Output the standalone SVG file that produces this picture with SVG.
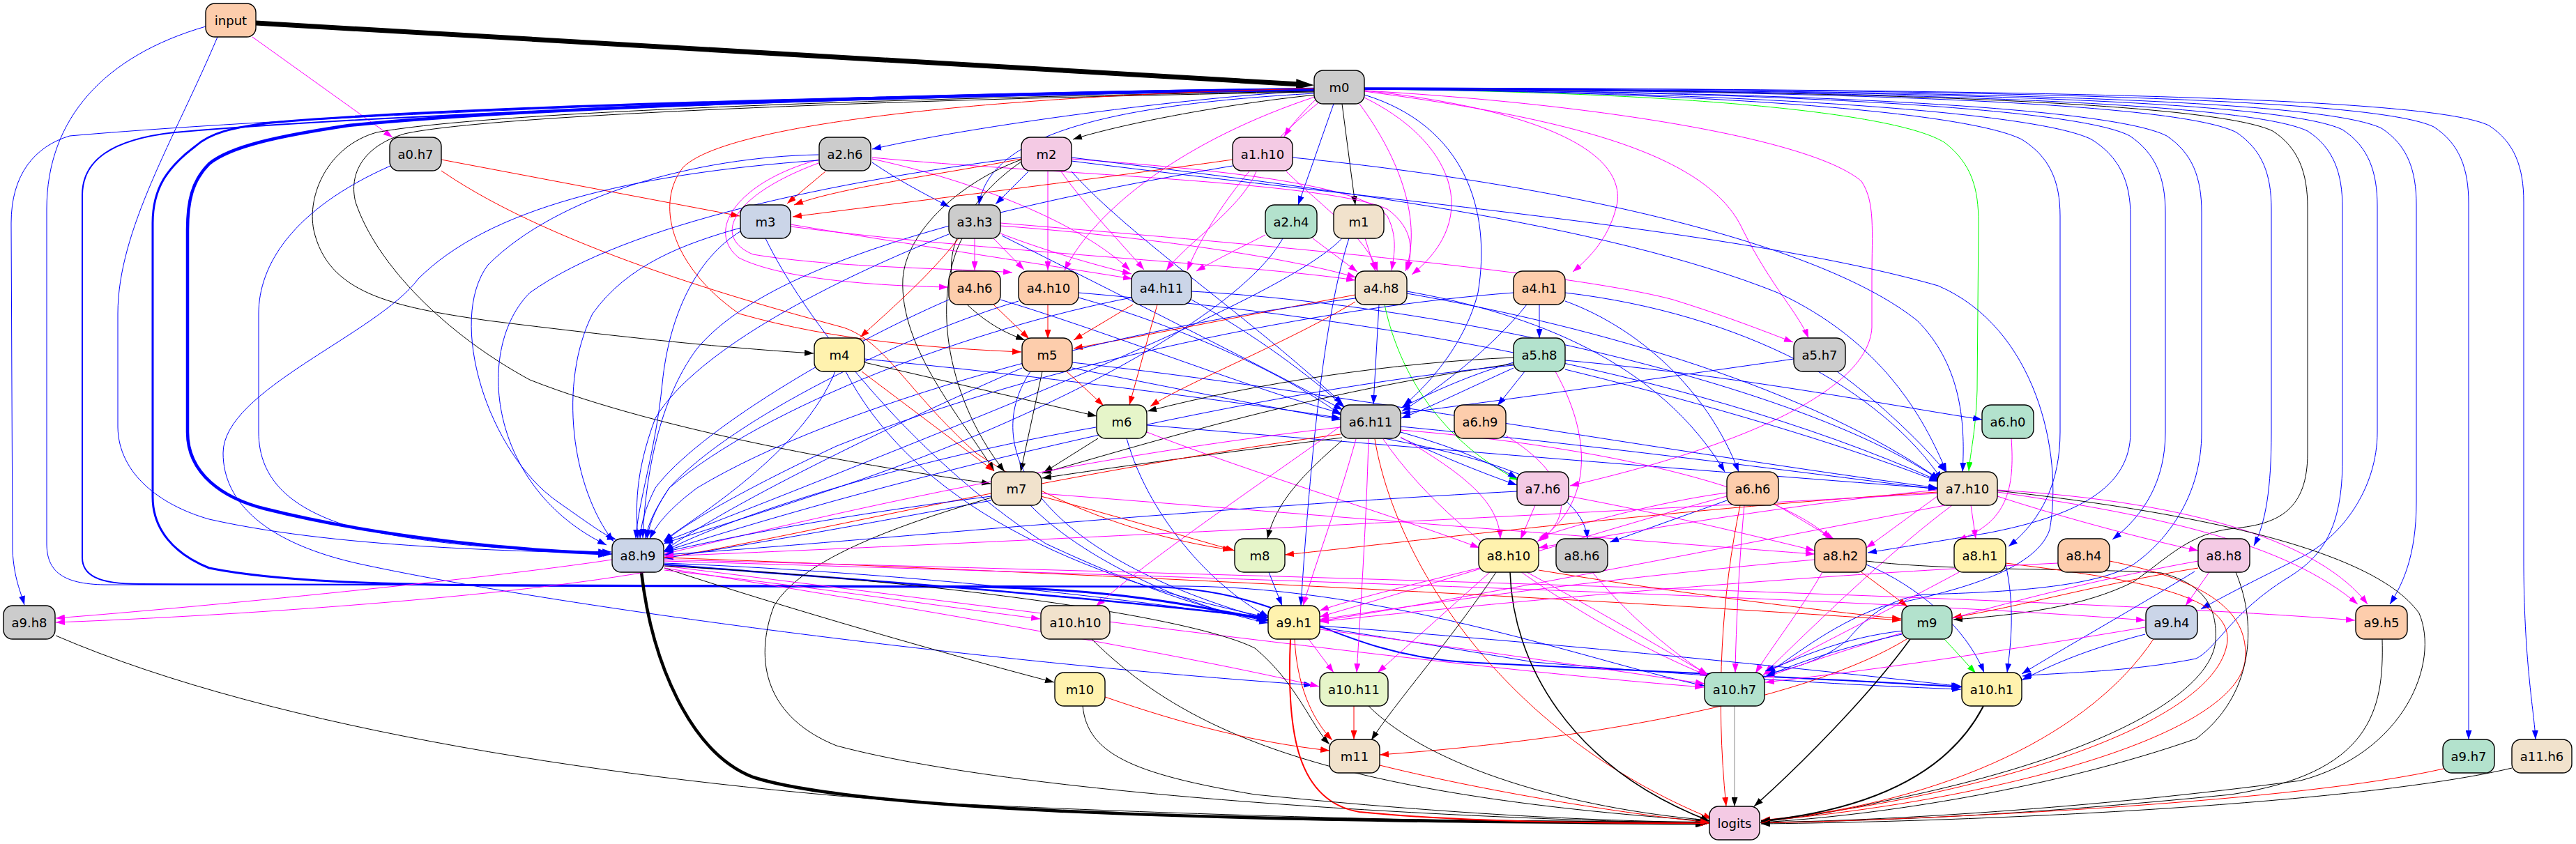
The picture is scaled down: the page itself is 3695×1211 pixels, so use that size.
<svg xmlns="http://www.w3.org/2000/svg" width="3695" height="1211" viewBox="0 0 3695 1211">
<style>
.e{fill:none;stroke-width:1}
.k{stroke:#000;marker-end:url(#ak)}
.b{stroke:#0000ff;marker-end:url(#ab)}
.r{stroke:#ff0000;marker-end:url(#ar)}
.m{stroke:#ff00ff;marker-end:url(#am)}
.g{stroke:#00ff00;marker-end:url(#ag)}
.n rect{stroke:#000;stroke-width:1.4}
.n text{font-family:"DejaVu Sans",sans-serif;font-size:18px;text-anchor:middle;fill:#000}
.c0{fill:#cccccc}.c1{fill:#f4cae4}.c2{fill:#cbd5e8}.c3{fill:#b3e2cd}.c4{fill:#fdcdac}.c5{fill:#fff2ae}.c6{fill:#f1e2cc}.c7{fill:#e6f5c9}
</style>
<defs>
<marker id="ak" viewBox="0 0 13 9" refX="13" refY="4.5" markerWidth="13" markerHeight="9" markerUnits="userSpaceOnUse" orient="auto"><path d="M0,0L13,4.5L0,9z" fill="#000"/></marker>
<marker id="ab" viewBox="0 0 13 9" refX="13" refY="4.5" markerWidth="13" markerHeight="9" markerUnits="userSpaceOnUse" orient="auto"><path d="M0,0L13,4.5L0,9z" fill="#0000ff"/></marker>
<marker id="ar" viewBox="0 0 13 9" refX="13" refY="4.5" markerWidth="13" markerHeight="9" markerUnits="userSpaceOnUse" orient="auto"><path d="M0,0L13,4.5L0,9z" fill="#ff0000"/></marker>
<marker id="am" viewBox="0 0 13 9" refX="13" refY="4.5" markerWidth="13" markerHeight="9" markerUnits="userSpaceOnUse" orient="auto"><path d="M0,0L13,4.5L0,9z" fill="#ff00ff"/></marker>
<marker id="ag" viewBox="0 0 13 9" refX="13" refY="4.5" markerWidth="13" markerHeight="9" markerUnits="userSpaceOnUse" orient="auto"><path d="M0,0L13,4.5L0,9z" fill="#00ff00"/></marker>
<marker id="akL" viewBox="0 0 26 15" refX="6" refY="7.5" markerWidth="26" markerHeight="15" markerUnits="userSpaceOnUse" orient="auto"><path d="M0,0L26,7.5L0,15z" fill="#000"/></marker>
<marker id="akM" viewBox="0 0 20 13" refX="4" refY="6.5" markerWidth="20" markerHeight="13" markerUnits="userSpaceOnUse" orient="auto"><path d="M0,0L20,6.5L0,13z" fill="#000"/></marker>
<marker id="abL" viewBox="0 0 20 13" refX="4" refY="6.5" markerWidth="20" markerHeight="13" markerUnits="userSpaceOnUse" orient="auto"><path d="M0,0L20,6.5L0,13z" fill="#0000ff"/></marker>
<marker id="abM" viewBox="0 0 16 11" refX="3" refY="5.5" markerWidth="16" markerHeight="11" markerUnits="userSpaceOnUse" orient="auto"><path d="M0,0L16,5.5L0,11z" fill="#0000ff"/></marker>
</defs>
<rect width="3695" height="1211" fill="#fff"/>
<g id="edges">
<path class="e k" style="stroke-width:7;marker-end:url(#akL)" d="M367,33 L1865,121"/>
<path class="e m" d="M362,53 L563,197"/>
<path class="e b" d="M312,53 C250,200 169,330 169,450 L169,613 C170,680 230,725 300,745 C500,790 780,790 878,795"/>
<path class="e b" d="M295,38 C150,80 67,170 67,300 L67,780 C67,820 90,838 150,839 L1700,841 C2000,843 2300,955 2445,984"/>
<path class="e b" style="stroke-width:4.5;marker-end:url(#abL)" d="M1885,128 C1400,135 800,150 500,180 C400,195 330,210 300,235 C275,260 269,290 269,330 L269,620 C269,680 320,715 380,730 C560,775 760,790 862,794"/>
<path class="e b" style="stroke-width:3;marker-end:url(#abM)" d="M1885,129 C1400,136 700,150 400,175 C330,182 300,192 280,210 C240,240 219,270 219,320 L219,713 C219,760 250,795 300,815 C400,835 550,838 700,840 L1400,842 C1600,845 1720,870 1806,887"/>
<path class="e b" style="stroke-width:2;marker-end:url(#abM)" d="M1885,130 C1400,134 600,160 250,190 C160,200 118,230 118,280 L118,800 C118,825 140,838 200,838 L1650,842 C1850,845 1900,935 2100,950 C2400,965 2650,975 2802,985"/>
<path class="e b" d="M1885,130 C1700,140 1400,180 1251,214"/>
<path class="e k" d="M1888,136 C1750,150 1600,180 1539,200"/>
<path class="e b" d="M1885,134 C1600,150 1420,190 1404,294"/>
<path class="e b" d="M1885,127 C1400,130 500,160 100,195 C50,210 16,250 16,320 L18,790 C20,830 30,850 35,868"/>
<path class="e k" d="M1885,131 C1300,140 700,160 540,190 C470,210 440,280 450,330 C470,420 560,440 700,460 C900,485 1050,500 1167,507"/>
<path class="e k" d="M1885,132 C1300,142 700,165 580,192 C520,210 500,250 510,290 C540,380 640,480 760,545 C950,620 1250,670 1421,694"/>
<path class="e r" d="M1885,127 C1500,135 1050,170 980,240 C940,290 960,380 1060,450 C1200,490 1350,500 1465,505"/>
<path class="e m" d="M1890,140 C1870,160 1855,175 1842,196"/>
<path class="e b" d="M1913,149 L1862,294"/>
<path class="e k" d="M1925,149 L1944,294"/>
<path class="e m" d="M1889,138 C1700,200 1570,300 1527,388"/>
<path class="e m" d="M1893,146 C1800,220 1730,320 1703,388"/>
<path class="e m" d="M1950,149 C2010,230 2040,320 2016,389"/>
<path class="e m" d="M1957,140 C2080,200 2130,310 2025,394"/>
<path class="e b" d="M1957,136 C2100,180 2140,300 2120,420 C2100,500 2040,560 2013,582"/>
<path class="e m" d="M1957,130 C2150,150 2330,200 2320,290 C2310,340 2280,370 2256,390"/>
<path class="e m" d="M1957,131 C2250,170 2450,220 2500,330 C2540,410 2580,450 2594,485"/>
<path class="e m" d="M1957,130 C2300,150 2600,200 2670,260 C2690,290 2685,330 2685,400 L2685,470 C2680,560 2500,640 2252,697"/>
<path class="e g" d="M1957,128 C2400,132 2720,160 2790,205 C2828,235 2838,270 2838,320 L2836,560 C2834,620 2826,650 2824,676"/>
<path class="e b" d="M1957,128 C2450,132 2820,160 2900,200 C2940,225 2955,260 2955,310 L2955,620 C2955,690 2930,745 2881,784"/>
<path class="e b" d="M1957,128 C2500,132 2920,160 3000,200 C3040,225 3056,260 3056,310 L3056,620 C3056,700 2980,740 2850,765 C2760,780 2710,788 2679,793"/>
<path class="e b" d="M1957,128 C2550,131 2980,155 3055,195 C3092,220 3106,255 3106,305 L3106,620 C3106,690 3075,740 3030,774"/>
<path class="e b" d="M1957,128 C2600,131 3030,155 3108,195 C3145,220 3158,255 3158,305 L3158,620 C3158,710 3110,775 3060,810 C3000,845 2860,850 2760,853 C2700,860 2670,895 2650,918 C2615,948 2570,960 2533,967"/>
<path class="e b" d="M1957,128 C2700,130 3130,150 3208,190 C3245,215 3258,250 3258,300 L3258,620 C3258,700 3250,750 3233,783"/>
<path class="e k" d="M1957,127 C2750,130 3180,150 3260,188 C3297,212 3310,248 3310,298 L3310,650 C3310,730 3270,752 3205,758 C3140,765 3110,800 3060,835 C2990,870 2900,882 2802,889"/>
<path class="e b" d="M1957,127 C2800,130 3230,150 3310,188 C3347,212 3360,248 3360,298 L3360,660 C3360,760 3330,800 3280,830 C3200,880 3180,930 3150,945 C3050,965 2950,965 2901,970"/>
<path class="e b" d="M1957,127 C2850,129 3280,148 3360,186 C3397,210 3410,246 3410,296 L3410,620 C3410,700 3360,770 3300,800 C3240,830 3190,855 3157,874"/>
<path class="e b" d="M1957,127 C2900,129 3336,146 3416,184 C3453,208 3466,244 3466,294 L3466,720 C3466,800 3445,840 3428,867"/>
<path class="e b" d="M1957,126 C2950,128 3411,144 3491,182 C3528,206 3541,242 3541,292 L3541,1061"/>
<path class="e b" d="M1957,126 C3000,128 3490,142 3570,180 C3607,204 3620,240 3620,290 L3620,800 C3620,950 3635,1020 3637,1061"/>
<path class="e r" d="M633,229 L1061,310"/>
<path class="e r" d="M633,245 C800,360 1100,440 1210,470 C1270,490 1300,560 1400,650 C1550,750 1700,780 1767,789"/>
<path class="e b" d="M560,238 C420,300 371,380 371,450 L371,620 C371,690 420,730 500,755 C650,790 800,790 877,792"/>
<path class="e r" d="M1184,246 L1129,292"/>
<path class="e b" d="M1251,233 C1290,260 1330,280 1362,297"/>
<path class="e m" d="M1174,229 C1060,260 1010,330 1060,370 C1120,400 1250,410 1360,412"/>
<path class="e m" d="M1174,234 C1050,280 1020,340 1080,365 C1200,385 1380,385 1452,391"/>
<path class="e m" d="M1251,228 C1400,260 1550,320 1621,388"/>
<path class="e m" d="M1251,226 C1500,250 1900,260 1990,300 C2030,330 2025,360 2019,388"/>
<path class="e b" d="M1174,222 C1000,225 800,280 700,380 C640,460 700,650 800,720 C850,755 870,770 884,774"/>
<path class="e b" d="M1174,230 C900,250 700,300 600,400 C540,480 320,560 320,650 C320,720 380,780 520,810 C800,870 1400,950 1883,983"/>
<path class="e r" d="M1465,228 C1350,250 1200,270 1139,294"/>
<path class="e b" d="M1475,246 L1428,293"/>
<path class="e m" d="M1503,246 L1503,388"/>
<path class="e m" d="M1522,246 C1560,300 1610,350 1641,387"/>
<path class="e m" d="M1537,228 C1700,240 1950,260 1990,310 C2005,340 2000,365 1996,388"/>
<path class="e b" d="M1537,246 C1620,340 1800,460 1926,580"/>
<path class="e b" d="M1537,226 C1900,270 2300,320 2550,420 C2700,490 2760,600 2792,677"/>
<path class="e b" d="M1537,231 C2000,290 2500,330 2780,410 C2920,470 2960,650 2940,760 C2920,820 2800,850 2700,870 C2620,900 2570,945 2534,966"/>
<path class="e b" d="M1465,226 C1200,260 900,320 760,420 C680,500 700,700 870,782"/>
<path class="e k" d="M1465,229 C1380,260 1300,330 1295,400 C1290,500 1380,600 1426,676"/>
<path class="e k" d="M1465,232 C1380,290 1340,380 1380,430 C1420,470 1450,480 1470,488"/>
<path class="e r" d="M1768,229 C1550,260 1300,290 1137,311"/>
<path class="e m" d="M1802,246 C1780,300 1700,350 1673,388"/>
<path class="e m" d="M1845,246 C1900,300 1960,340 1976,389"/>
<path class="e b" d="M1768,238 C1400,300 1100,380 1000,500 C940,580 925,700 922,772"/>
<path class="e b" d="M1854,226 C2200,260 2600,340 2750,460 C2810,520 2820,600 2815,677"/>
<path class="e m" d="M1134,322 C1300,350 1500,380 1624,400"/>
<path class="e m" d="M1134,325 C1400,360 1800,380 1944,402"/>
<path class="e b" d="M1062,327 C980,350 900,380 850,450 C800,550 820,700 880,777"/>
<path class="e b" d="M1062,332 C1000,370 960,450 950,550 C940,650 915,720 912,773"/>
<path class="e b" d="M1098,342 C1150,450 1300,650 1500,780 C1650,850 1750,880 1819,891"/>
<path class="e m" d="M1398,342 L1398,388"/>
<path class="e m" d="M1425,342 L1469,387"/>
<path class="e m" d="M1435,335 C1500,360 1570,380 1623,393"/>
<path class="e m" d="M1435,324 C1650,340 1850,370 1945,398"/>
<path class="e m" d="M1435,320 C1800,350 2250,390 2400,430 C2480,455 2530,475 2572,491"/>
<path class="e r" d="M1375,342 C1330,400 1270,450 1234,484"/>
<path class="e b" d="M1361,336 C1200,400 1000,500 940,600 C910,680 912,730 915,773"/>
<path class="e b" d="M1437,338 C1600,420 1800,520 1926,588"/>
<path class="e k" d="M1380,342 C1340,420 1350,560 1441,677"/>
<path class="e m" d="M1815,337 C1770,360 1740,375 1716,389"/>
<path class="e m" d="M1883,342 L1947,390"/>
<path class="e b" d="M1840,342 C1780,450 1500,600 1200,700 C1050,750 980,770 952,780"/>
<path class="e m" d="M1958,342 L1973,389"/>
<path class="e b" d="M1925,342 C1850,420 1500,560 1200,680 C1050,740 970,770 952,778"/>
<path class="e b" d="M1935,342 C1900,450 1880,650 1866,869"/>
<path class="e r" d="M1425,437 L1476,486"/>
<path class="e b" d="M1435,430 C1600,480 1800,560 1924,593"/>
<path class="e b" d="M1361,430 C1200,500 1000,620 940,700 C925,730 920,750 918,773"/>
<path class="e r" d="M1503,437 L1503,486"/>
<path class="e b" d="M1547,427 C1700,470 1850,540 1924,596"/>
<path class="e b" d="M1461,432 C1300,480 1050,600 960,700 C940,730 930,750 926,773"/>
<path class="e b" d="M1547,420 C1900,450 2400,520 2781,690"/>
<path class="e r" d="M1625,437 L1540,488"/>
<path class="e r" d="M1660,437 L1620,581"/>
<path class="e b" d="M1709,430 C1800,480 1880,540 1929,585"/>
<path class="e b" d="M1709,418 C2100,440 2600,560 2782,689"/>
<path class="e b" d="M1623,427 C1400,470 1100,580 960,700 C940,730 932,750 928,773"/>
<path class="e r" d="M1944,423 C1800,450 1650,480 1540,500"/>
<path class="e r" d="M1944,433 C1850,490 1700,550 1650,583"/>
<path class="e b" d="M1978,437 L1970,580"/>
<path class="e g" d="M1986,437 C2010,550 2080,640 2178,689"/>
<path class="e b" d="M2018,418 C2200,450 2380,520 2474,677"/>
<path class="e b" d="M2018,421 C2300,470 2600,560 2782,688"/>
<path class="e b" d="M1944,428 C1600,470 1200,580 1000,700 C960,730 942,752 932,773"/>
<path class="e b" d="M2208,437 L2208,485"/>
<path class="e b" d="M2190,437 C2140,500 2060,560 2011,590"/>
<path class="e b" d="M2245,432 C2350,470 2450,560 2494,677"/>
<path class="e b" d="M2171,420 C1900,440 1500,520 1200,640 C1050,710 970,760 953,778"/>
<path class="e b" d="M2245,420 C2500,450 2700,560 2786,689"/>
<path class="e k" d="M1240,520 L1573,597"/>
<path class="e r" d="M1236,533 L1426,676"/>
<path class="e b" d="M1198,533 C1150,650 1000,740 952,776"/>
<path class="e b" d="M1213,533 C1300,700 1500,820 1819,886"/>
<path class="e b" d="M1240,515 C1500,540 1800,580 1923,600"/>
<path class="e r" d="M1530,533 L1583,582"/>
<path class="e k" d="M1495,533 L1464,677"/>
<path class="e b" d="M1538,528 C1700,560 1850,590 1923,602"/>
<path class="e b" d="M1538,520 C1900,560 2400,650 2779,700"/>
<path class="e b" d="M1466,528 C1300,600 1050,720 953,790"/>
<path class="e b" d="M1478,533 C1400,650 1500,800 1819,889"/>
<path class="e b" d="M2171,520 C2100,540 2040,570 2010,585"/>
<path class="e b" d="M2171,528 C2100,560 2050,585 2010,600"/>
<path class="e b" d="M2187,533 L2148,582"/>
<path class="e b" d="M2245,517 C2500,540 2700,580 2843,602"/>
<path class="e k" d="M2171,513 C2000,520 1800,550 1646,590"/>
<path class="e k" d="M2171,522 C1900,560 1700,620 1495,679"/>
<path class="e b" d="M2171,524 C1800,560 1300,680 953,791"/>
<path class="e b" d="M2245,530 C2450,580 2650,640 2780,691"/>
<path class="e m" d="M2231,533 C2280,620 2290,720 2205,777"/>
<path class="e b" d="M2573,515 C2400,540 2150,575 2010,593"/>
<path class="e b" d="M2635,533 C2700,580 2760,640 2791,677"/>
<path class="e k" d="M1575,629 L1497,678"/>
<path class="e b" d="M1572,613 C1300,660 1050,740 953,791"/>
<path class="e b" d="M1616,629 C1650,750 1750,850 1820,885"/>
<path class="e b" d="M1645,610 C2000,640 2500,680 2779,701"/>
<path class="e m" d="M1645,620 C1800,680 2000,740 2122,786"/>
<path class="e k" d="M1925,628 C1750,650 1600,670 1495,686"/>
<path class="e b" d="M2009,620 C2080,640 2130,660 2176,686"/>
<path class="e b" d="M2009,628 C2080,660 2130,680 2176,696"/>
<path class="e b" d="M2009,612 C2300,640 2600,680 2779,702"/>
<path class="e b" d="M1985,629 C2150,660 2270,700 2277,773"/>
<path class="e m" d="M1923,613 C1500,660 1100,760 953,795"/>
<path class="e r" d="M1923,623 C1500,680 1100,780 953,800"/>
<path class="e k" d="M1925,632 C1870,680 1830,720 1818,773"/>
<path class="e m" d="M2009,627 C2100,680 2150,720 2152,773"/>
<path class="e m" d="M2009,617 C2300,640 2550,700 2626,773"/>
<path class="e m" d="M1945,630 C1920,720 1890,800 1869,869"/>
<path class="e m" d="M1963,630 C1960,750 1950,900 1946,965"/>
<path class="e m" d="M1984,630 C2100,800 2350,930 2451,970"/>
<path class="e r" d="M1972,630 C2000,800 2150,1050 2456,1175"/>
<path class="e m" d="M1925,610 C1800,700 1650,800 1572,870"/>
<path class="e m" d="M2160,625 C2250,680 2260,740 2208,776"/>
<path class="e m" d="M2885,629 C2890,700 2880,750 2808,775"/>
<path class="e b" d="M1422,712 C1200,740 1050,770 953,792"/>
<path class="e b" d="M1422,718 C1200,760 1050,785 953,801"/>
<path class="e r" d="M1493,712 C1600,740 1700,770 1771,790"/>
<path class="e b" d="M1478,725 C1550,800 1700,870 1819,894"/>
<path class="e m" d="M1493,708 C1900,740 2400,780 2603,795"/>
<path class="e k" d="M1422,714 C1300,750 1150,800 1110,870 C1080,950 1100,1030 1200,1070 C1500,1150 2200,1178 2452,1181"/>
<path class="e m" d="M2202,725 L2181,774"/>
<path class="e b" d="M2176,705 C1700,730 1200,780 953,796"/>
<path class="e m" d="M2250,712 C2400,740 2520,770 2603,790"/>
<path class="e m" d="M2477,707 C2380,720 2270,750 2208,771"/>
<path class="e b" d="M2477,718 L2309,778"/>
<path class="e m" d="M2549,725 L2631,774"/>
<path class="e m" d="M2502,725 C2495,800 2490,900 2489,965"/>
<path class="e r" d="M2496,725 C2470,850 2460,1000 2476,1157"/>
<path class="e m" d="M2477,712 C2300,760 2050,840 1893,885"/>
<path class="e m" d="M2827,725 L2834,773"/>
<path class="e m" d="M2865,712 C2950,740 3080,775 3153,790"/>
<path class="e m" d="M2865,706 C3100,740 3280,780 3382,867"/>
<path class="e m" d="M2865,703 C3150,720 3330,780 3396,867"/>
<path class="e k" d="M2865,704 C3100,730 3400,780 3470,880 C3500,950 3450,1080 3300,1120 C3000,1160 2700,1178 2525,1180"/>
<path class="e m" d="M2779,703 C2600,720 2350,760 2207,786"/>
<path class="e m" d="M2779,712 C2740,740 2700,770 2677,786"/>
<path class="e r" d="M2779,706 C2400,730 2000,780 1843,796"/>
<path class="e m" d="M2779,708 C2200,740 1400,780 953,798"/>
<path class="e m" d="M2800,725 C2700,800 2600,900 2531,966"/>
<path class="e m" d="M2790,725 C2500,780 2100,860 1893,891"/>
<path class="e k" style="stroke-width:4.5;marker-end:url(#akM)" d="M920,821 C935,950 990,1080 1080,1115 C1250,1170 1900,1179 2436,1181"/>
<path class="e b" style="stroke-width:2.5;marker-end:url(#abM)" d="M953,810 C1200,830 1500,850 1806,885"/>
<path class="e k" d="M953,815 C1150,880 1400,950 1512,979"/>
<path class="e m" d="M878,803 C700,830 300,870 80,887"/>
<path class="e m" d="M925,821 C700,860 300,885 80,893"/>
<path class="e m" d="M953,818 C1150,840 1350,870 1492,888"/>
<path class="e r" d="M953,800 C1500,820 2300,860 2727,890"/>
<path class="e m" d="M953,805 C1800,830 2700,860 3077,890"/>
<path class="e m" d="M953,803 C2000,830 3000,860 3378,890"/>
<path class="e m" d="M953,815 C1300,870 1700,940 1892,985"/>
<path class="e m" d="M953,812 C1500,880 2100,960 2444,986"/>
<path class="e b" d="M953,808 C1500,830 1900,900 2200,950 C2500,975 2700,985 2813,989"/>
<path class="e k" d="M953,812 C1300,830 1700,880 1800,930 C1860,980 1880,1040 1907,1068"/>
<path class="e b" d="M1820,821 L1839,869"/>
<path class="e m" d="M2122,815 C2020,840 1940,860 1893,876"/>
<path class="e m" d="M2137,821 L1976,965"/>
<path class="e k" d="M2146,821 C2080,920 2000,1010 1967,1062"/>
<path class="e k" style="stroke-width:1.6" d="M2166,821 C2170,950 2250,1100 2452,1178"/>
<path class="e m" d="M2190,821 C2300,880 2400,940 2450,968"/>
<path class="e r" d="M2207,818 C2400,850 2600,875 2727,888"/>
<path class="e m" d="M2284,821 C2350,900 2420,950 2449,968"/>
<path class="e r" d="M2670,821 L2736,870"/>
<path class="e m" d="M2603,803 C2300,830 2050,865 1893,889"/>
<path class="e m" d="M2614,821 C2580,880 2540,930 2518,966"/>
<path class="e b" d="M2677,810 C2750,840 2820,900 2846,965"/>
<path class="e k" d="M2677,805 C2800,820 3000,815 3100,822 C3170,840 3180,880 3178,920 C3170,1000 3000,1090 2700,1150 C2620,1168 2560,1176 2526,1179"/>
<path class="e b" d="M2877,810 C2890,870 2885,920 2879,965"/>
<path class="e m" d="M2810,821 C2700,880 2600,930 2529,968"/>
<path class="e r" d="M2877,808 C3050,830 3200,850 3195,920 C3180,1050 2800,1150 2526,1177"/>
<path class="e m" d="M2952,808 C2500,830 2100,870 1893,892"/>
<path class="e r" d="M3026,805 C3150,830 3230,870 3220,950 C3200,1060 2850,1150 2526,1178"/>
<path class="e m" d="M3169,821 L3135,869"/>
<path class="e r" d="M3153,815 C3000,840 2900,870 2801,886"/>
<path class="e b" d="M3148,820 C3050,880 2960,930 2900,967"/>
<path class="e k" d="M3207,821 C3240,900 3230,1000 3150,1060 C2950,1130 2700,1170 2526,1180"/>
<path class="e m" d="M3153,805 C2900,850 2650,930 2532,972"/>
<path class="e k" d="M80,912 C400,1050 900,1120 1300,1150 C1800,1175 2200,1180 2452,1181"/>
<path class="e k" d="M1566,917 C1700,1050 1900,1140 2452,1178"/>
<path class="e m" d="M1877,917 L1913,965"/>
<path class="e r" d="M1857,917 C1860,980 1880,1030 1911,1062"/>
<path class="e r" style="stroke-width:2" d="M1851,917 C1845,1050 1860,1150 1950,1165 C2100,1180 2300,1181 2452,1181"/>
<path class="e m" d="M1893,903 C2100,930 2300,960 2445,981"/>
<path class="e b" d="M1893,898 C2200,920 2600,960 2814,985"/>
<path class="e b" d="M2728,910 C2640,930 2580,950 2532,971"/>
<path class="e b" d="M2730,905 C2640,915 2580,945 2532,963"/>
<path class="e g" d="M2789,917 L2834,966"/>
<path class="e r" d="M2735,917 C2600,1000 2300,1060 1979,1083"/>
<path class="e k" style="stroke-width:1.5" d="M2740,917 C2680,1000 2580,1100 2516,1157"/>
<path class="e b" d="M3077,910 C3000,930 2950,950 2900,976"/>
<path class="e m" d="M3077,900 C2900,930 2700,960 2532,979"/>
<path class="e r" d="M3089,917 C3000,1050 2800,1150 2526,1178"/>
<path class="e k" d="M3417,917 C3420,1020 3400,1110 3200,1140 C2900,1170 2700,1178 2526,1180"/>
<path class="e r" d="M1585,1000 C1700,1040 1800,1065 1907,1077"/>
<path class="e k" d="M1553,1013 C1560,1080 1620,1110 1800,1140 C2100,1170 2300,1178 2452,1180"/>
<path class="e r" d="M1942,1013 L1942,1061"/>
<path class="e k" d="M1963,1013 C2050,1100 2250,1160 2452,1177"/>
<path class="e k" style="stroke:#888" d="M2488,1013 L2488,1157"/>
<path class="e k" style="stroke-width:2" d="M2845,1013 C2800,1100 2700,1160 2526,1178"/>
<path class="e r" d="M1979,1098 C2150,1140 2350,1170 2452,1180"/>
<path class="e r" d="M3505,1103 C3300,1150 2800,1175 2526,1181"/>
<path class="e k" d="M3603,1102 C3400,1150 2900,1178 2526,1182"/>
</g>
<g id="n-input" class="n"><rect class="c4" x="295" y="5" width="72" height="48" rx="13"/><text x="331" y="35.5">input</text></g>
<g id="n-m0" class="n"><rect class="c0" x="1885" y="101" width="72" height="48" rx="13"/><text x="1921" y="131.5">m0</text></g>
<g id="n-a0.h7" class="n"><rect class="c0" x="559" y="197" width="74" height="48" rx="13"/><text x="596" y="227.5">a0.h7</text></g>
<g id="n-a2.h6" class="n"><rect class="c0" x="1175" y="197" width="74" height="48" rx="13"/><text x="1212" y="227.5">a2.h6</text></g>
<g id="n-m2" class="n"><rect class="c1" x="1465" y="197" width="72" height="48" rx="13"/><text x="1501" y="227.5">m2</text></g>
<g id="n-a1.h10" class="n"><rect class="c1" x="1768" y="197" width="86" height="48" rx="13"/><text x="1811" y="227.5">a1.h10</text></g>
<g id="n-m3" class="n"><rect class="c2" x="1062" y="294" width="72" height="48" rx="13"/><text x="1098" y="324.5">m3</text></g>
<g id="n-a3.h3" class="n"><rect class="c0" x="1361" y="294" width="74" height="48" rx="13"/><text x="1398" y="324.5">a3.h3</text></g>
<g id="n-a2.h4" class="n"><rect class="c3" x="1815" y="294" width="74" height="48" rx="13"/><text x="1852" y="324.5">a2.h4</text></g>
<g id="n-m1" class="n"><rect class="c6" x="1913" y="294" width="72" height="48" rx="13"/><text x="1949" y="324.5">m1</text></g>
<g id="n-a4.h6" class="n"><rect class="c4" x="1361" y="389" width="74" height="48" rx="13"/><text x="1398" y="419.5">a4.h6</text></g>
<g id="n-a4.h10" class="n"><rect class="c4" x="1461" y="389" width="86" height="48" rx="13"/><text x="1504" y="419.5">a4.h10</text></g>
<g id="n-a4.h11" class="n"><rect class="c2" x="1623" y="389" width="86" height="48" rx="13"/><text x="1666" y="419.5">a4.h11</text></g>
<g id="n-a4.h8" class="n"><rect class="c6" x="1944" y="389" width="74" height="48" rx="13"/><text x="1981" y="419.5">a4.h8</text></g>
<g id="n-a4.h1" class="n"><rect class="c4" x="2171" y="389" width="74" height="48" rx="13"/><text x="2208" y="419.5">a4.h1</text></g>
<g id="n-m4" class="n"><rect class="c5" x="1168" y="485" width="72" height="48" rx="13"/><text x="1204" y="515.5">m4</text></g>
<g id="n-m5" class="n"><rect class="c4" x="1466" y="485" width="72" height="48" rx="13"/><text x="1502" y="515.5">m5</text></g>
<g id="n-a5.h8" class="n"><rect class="c3" x="2171" y="485" width="74" height="48" rx="13"/><text x="2208" y="515.5">a5.h8</text></g>
<g id="n-a5.h7" class="n"><rect class="c0" x="2573" y="485" width="74" height="48" rx="13"/><text x="2610" y="515.5">a5.h7</text></g>
<g id="n-m6" class="n"><rect class="c7" x="1573" y="581" width="72" height="48" rx="13"/><text x="1609" y="611.5">m6</text></g>
<g id="n-a6.h11" class="n"><rect class="c0" x="1923" y="581" width="86" height="48" rx="13"/><text x="1966" y="611.5">a6.h11</text></g>
<g id="n-a6.h9" class="n"><rect class="c4" x="2086" y="581" width="74" height="48" rx="13"/><text x="2123" y="611.5">a6.h9</text></g>
<g id="n-a6.h0" class="n"><rect class="c3" x="2843" y="581" width="74" height="48" rx="13"/><text x="2880" y="611.5">a6.h0</text></g>
<g id="n-m7" class="n"><rect class="c6" x="1422" y="677" width="72" height="48" rx="13"/><text x="1458" y="707.5">m7</text></g>
<g id="n-a7.h6" class="n"><rect class="c1" x="2176" y="677" width="74" height="48" rx="13"/><text x="2213" y="707.5">a7.h6</text></g>
<g id="n-a6.h6" class="n"><rect class="c4" x="2477" y="677" width="74" height="48" rx="13"/><text x="2514" y="707.5">a6.h6</text></g>
<g id="n-a7.h10" class="n"><rect class="c6" x="2779" y="677" width="86" height="48" rx="13"/><text x="2822" y="707.5">a7.h10</text></g>
<g id="n-a8.h9" class="n"><rect class="c2" x="878" y="773" width="74" height="48" rx="13"/><text x="915" y="803.5">a8.h9</text></g>
<g id="n-m8" class="n"><rect class="c7" x="1771" y="773" width="72" height="48" rx="13"/><text x="1807" y="803.5">m8</text></g>
<g id="n-a8.h10" class="n"><rect class="c5" x="2121" y="773" width="86" height="48" rx="13"/><text x="2164" y="803.5">a8.h10</text></g>
<g id="n-a8.h6" class="n"><rect class="c0" x="2232" y="773" width="74" height="48" rx="13"/><text x="2269" y="803.5">a8.h6</text></g>
<g id="n-a8.h2" class="n"><rect class="c4" x="2603" y="773" width="74" height="48" rx="13"/><text x="2640" y="803.5">a8.h2</text></g>
<g id="n-a8.h1" class="n"><rect class="c5" x="2803" y="773" width="74" height="48" rx="13"/><text x="2840" y="803.5">a8.h1</text></g>
<g id="n-a8.h4" class="n"><rect class="c4" x="2952" y="773" width="74" height="48" rx="13"/><text x="2989" y="803.5">a8.h4</text></g>
<g id="n-a8.h8" class="n"><rect class="c1" x="3153" y="773" width="74" height="48" rx="13"/><text x="3190" y="803.5">a8.h8</text></g>
<g id="n-a9.h8" class="n"><rect class="c0" x="5" y="869" width="74" height="48" rx="13"/><text x="42" y="899.5">a9.h8</text></g>
<g id="n-a10.h10" class="n"><rect class="c6" x="1493" y="869" width="99" height="48" rx="13"/><text x="1542.5" y="899.5">a10.h10</text></g>
<g id="n-a9.h1" class="n"><rect class="c5" x="1819" y="869" width="74" height="48" rx="13"/><text x="1856" y="899.5">a9.h1</text></g>
<g id="n-m9" class="n"><rect class="c3" x="2728" y="869" width="72" height="48" rx="13"/><text x="2764" y="899.5">m9</text></g>
<g id="n-a9.h4" class="n"><rect class="c2" x="3078" y="869" width="74" height="48" rx="13"/><text x="3115" y="899.5">a9.h4</text></g>
<g id="n-a9.h5" class="n"><rect class="c4" x="3379" y="869" width="74" height="48" rx="13"/><text x="3416" y="899.5">a9.h5</text></g>
<g id="n-m10" class="n"><rect class="c5" x="1513" y="965" width="72" height="48" rx="13"/><text x="1549" y="995.5">m10</text></g>
<g id="n-a10.h11" class="n"><rect class="c7" x="1893" y="965" width="98" height="48" rx="13"/><text x="1942" y="995.5">a10.h11</text></g>
<g id="n-a10.h7" class="n"><rect class="c3" x="2445" y="965" width="86" height="48" rx="13"/><text x="2488" y="995.5">a10.h7</text></g>
<g id="n-a10.h1" class="n"><rect class="c5" x="2814" y="965" width="86" height="48" rx="13"/><text x="2857" y="995.5">a10.h1</text></g>
<g id="n-m11" class="n"><rect class="c6" x="1907" y="1061" width="72" height="48" rx="13"/><text x="1943" y="1091.5">m11</text></g>
<g id="n-a9.h7" class="n"><rect class="c3" x="3504" y="1061" width="74" height="48" rx="13"/><text x="3541" y="1091.5">a9.h7</text></g>
<g id="n-a11.h6" class="n"><rect class="c6" x="3603" y="1061" width="86" height="48" rx="13"/><text x="3646" y="1091.5">a11.h6</text></g>
<g id="n-logits" class="n"><rect class="c1" x="2452" y="1157" width="72" height="48" rx="13"/><text x="2488" y="1187.5">logits</text></g>
</svg>
